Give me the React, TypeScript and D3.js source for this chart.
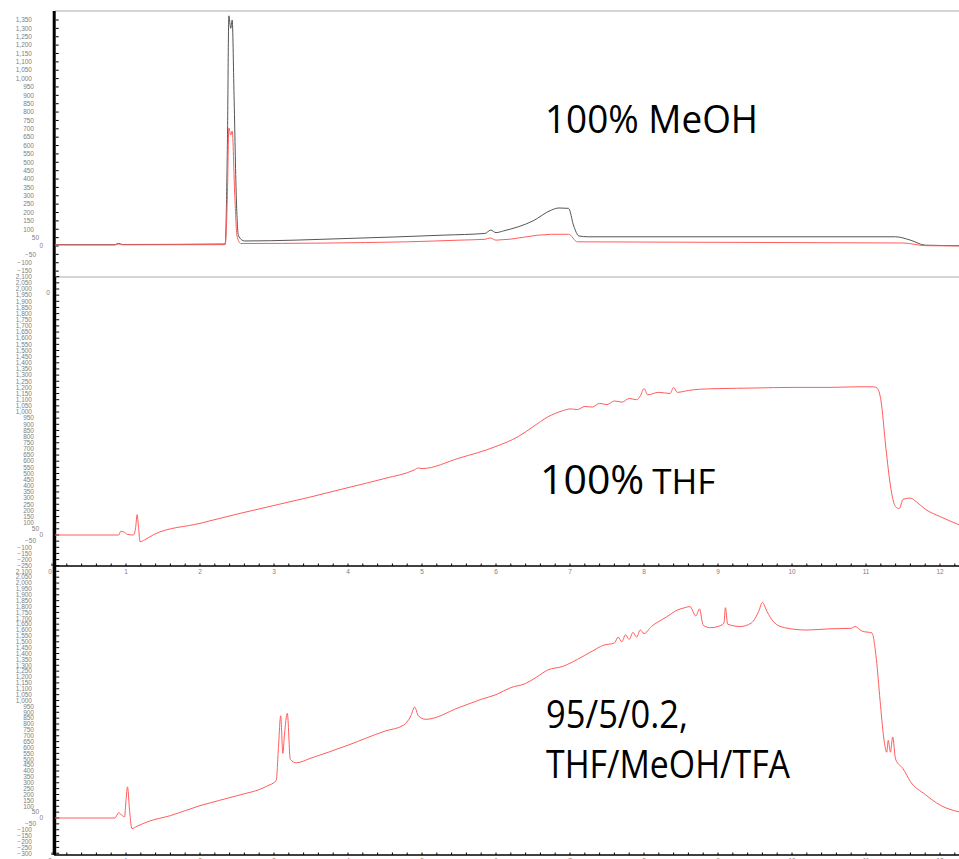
import React from 'react';
import * as d3 from 'd3';

const W = 959;
const H = 859;

// ---------- data (time in min, signal in mAU) ----------
// Panel 1: 100% MeOH — black trace
const meohBlackT = [0.04, 0.85, 0.9, 0.95, 2.34, 2.37, 2.39, 2.415, 2.435, 2.46, 2.49, 2.52, 2.6, 4.0, 5.3, 5.85, 5.93, 6.0, 6.1, 6.5, 6.75, 6.85, 6.98, 7.05, 7.12, 7.25, 11.4, 11.6, 11.8, 12.27];
const meohBlackV = [8, 8, 16, 9, 12, 600, 1375, 1300, 1350, 900, 300, 60, 30, 45, 65, 75, 95, 80, 90, 150, 215, 227, 225, 120, 60, 55, 55, 35, 5, 2];
// Panel 1: 100% MeOH — red trace
const meohRedT = [0.04, 0.85, 0.9, 0.95, 2.34, 2.37, 2.39, 2.415, 2.435, 2.47, 2.5, 2.55, 4.8, 5.5, 5.85, 5.92, 6.0, 6.75, 6.98, 7.1, 11.5, 11.8, 12.27];
const meohRedV = [6, 6, 12, 7, 8, 300, 705, 663, 687, 300, 60, 15, 25, 35, 40, 48, 35, 70, 70, 25, 18, 2, 0];

// Panel 2: 100% THF — red trace
const thfT = [0.04, 0.9, 0.93, 0.97, 1.02, 1.1, 1.13, 1.15, 1.17, 1.19, 1.25, 1.38, 2.0, 2.5, 3.0, 3.5, 4.0, 4.5, 4.9, 4.95, 5.0, 5.5, 6.0, 6.3, 6.5, 6.7, 6.9, 7.0, 7.1, 7.2, 7.3, 7.4, 7.5, 7.6, 7.7, 7.8, 7.9, 7.95, 8.0, 8.05, 8.2, 8.35, 8.4, 8.45, 8.6, 8.75, 9.0, 9.5, 10.0, 10.5, 10.9, 11.1, 11.15, 11.2, 11.27, 11.33, 11.4, 11.45, 11.5, 11.6, 11.68, 11.8, 12.0, 12.27];
const thfV = [0, 0, 30, 25, 5, 0, 60, 165, 60, -55, -40, 5, 95, 170, 240, 310, 385, 460, 530, 545, 540, 625, 720, 800, 880, 960, 1010, 1025, 1020, 1045, 1040, 1070, 1060, 1090, 1080, 1110, 1100, 1130, 1190, 1140, 1160, 1150, 1200, 1160, 1175, 1185, 1190, 1195, 1200, 1200, 1205, 1205, 1195, 1100, 700, 400, 230, 215, 290, 300, 270, 210, 150, 80];

// Panel 3: 95/5/0.2 THF/MeOH/TFA — red trace
const tfaT = [0.04, 0.85, 0.9, 0.95, 0.98, 1.0, 1.02, 1.05, 1.08, 1.15, 1.3, 1.6, 2.0, 2.5, 2.9, 3.03, 3.06, 3.09, 3.12, 3.14, 3.18, 3.22, 3.3, 3.5, 4.0, 4.5, 4.75, 4.85, 4.9, 4.95, 5.05, 5.5, 5.8, 6.0, 6.2, 6.4, 6.55, 6.7, 6.9, 7.1, 7.3, 7.45, 7.6, 7.65, 7.7, 7.75, 7.8, 7.85, 7.9, 7.95, 8.0, 8.1, 8.3, 8.45, 8.55, 8.62, 8.7, 8.75, 8.8, 8.9, 9.0, 9.08, 9.1, 9.13, 9.3, 9.45, 9.55, 9.6, 9.66, 9.75, 9.9, 10.2, 10.5, 10.8, 10.85, 10.95, 11.08, 11.14, 11.19, 11.24, 11.28, 11.3, 11.33, 11.36, 11.4, 11.5, 11.6, 11.8, 12.0, 12.27];
const tfaV = [0, 0, 45, 20, 10, 150, 265, 50, -90, -70, -30, 20, 105, 190, 270, 320, 600, 870, 550, 700, 890, 500, 470, 510, 620, 740, 790, 870, 945, 870, 840, 940, 1010, 1050, 1110, 1145, 1200, 1260, 1290, 1350, 1420, 1470, 1490, 1540, 1500, 1560, 1520, 1580, 1540, 1600, 1570, 1630, 1710, 1770, 1790, 1800, 1720, 1780, 1640, 1620, 1630, 1660, 1790, 1650, 1630, 1660, 1760, 1835, 1760, 1670, 1620, 1600, 1610, 1615, 1630, 1590, 1575, 1350, 1000, 680, 560, 660, 560, 690, 500, 420, 310, 200, 110, 50];

// axis ticks
const timeLabels = d3.range(0, 13);
const p1Ticks = d3.range(-150, 1351, 50);
const p2Ticks = d3.range(-250, 2101, 50);
const p3Ticks = d3.range(-300, 2101, 50);

const fmt = d3.format(',');

function labelRight(v: number): number {
  if (v === 0) return 43;
  if (v > 0) {
    if (v < 100) return 39;
    if (v < 1000) return 34;
    return 32;
  }
  if (v > -100) return 36;
  return 32;
}

const TICK_FONT = "'Liberation Sans', Arial, sans-serif";
const TITLE_FONT = "'Open Sans', 'Noto Sans', sans-serif";
const RED = '#ff5c5c';

function YAxis({ scale, ticks, y0, y1, barW }: { scale: d3.ScaleLinear<number, number>; ticks: number[]; y0: number; y1: number; barW: number }) {
  return (
    <g>
      <rect x={52.7} y={y0} width={barW} height={y1 - y0} fill="#000" />
      {ticks.map((v) => (
        <g key={v}>
          <line x1={52.7 + barW} x2={52.7 + barW + 3} y1={scale(v)} y2={scale(v)} stroke="#000" strokeWidth={1} />
          <text x={labelRight(v)} y={scale(v)} dy="0.35em" textAnchor="end" fontSize={6.5} fontFamily={TICK_FONT} fill="#808080">
            {fmt(v)}
          </text>
        </g>
      ))}
    </g>
  );
}

function XAxis({ scale, y, labelY }: { scale: d3.ScaleLinear<number, number>; y: number; labelY: number }) {
  const minor = d3.range(0, 12.3, 0.2);
  return (
    <g>
      <line x1={54} x2={W} y1={y} y2={y} stroke="#000" strokeWidth={1.5} />
      {minor.map((t, i) => (
        <line key={i} x1={scale(t)} x2={scale(t)} y1={y} y2={y - 2.5} stroke="#000" strokeWidth={1} />
      ))}
      {timeLabels.map((t) => (
        <text key={t} x={scale(t) + (t === 0 ? -2 : 0)} y={labelY} dy="0.35em" textAnchor="middle" fontSize={6.5} fontFamily={TICK_FONT} fill="#808080">
          {t}
        </text>
      ))}
    </g>
  );
}

export default function App() {
  const x = d3.scaleLinear().domain([0, 12.27]).range([52, 960]);
  const y1 = d3.scaleLinear().domain([0, 1350]).range([246, 20]);
  const y2 = d3.scaleLinear().domain([0, 1200]).range([535, 387.4]);
  const y3 = d3.scaleLinear().domain([0, 2100]).range([818, 571.3]);

  const mk = (ys: d3.ScaleLinear<number, number>, ts: number[], vs: number[]) =>
    d3.line<number>().x((_, i) => x(ts[i])).y((v) => ys(v)).curve(d3.curveMonotoneX)(vs) || '';

  return (
    <svg width={W} height={H} style={{ position: 'absolute', left: 0, top: 0, background: '#fff' }}>
      <rect x={0} y={0} width={W} height={H} fill="#fff" />

      {/* Panel 1 */}
      <line x1={55} x2={W} y1={11} y2={11} stroke="#ababab" strokeWidth={1.2} />
      <line x1={55} x2={W} y1={277} y2={277} stroke="#ababab" strokeWidth={1.2} />
      <YAxis scale={y1} ticks={p1Ticks} y0={11} y1={277} barW={3} />
      <path d={mk(y1, meohBlackT, meohBlackV)} fill="none" stroke="#555" strokeWidth={1} />
      <path d={mk(y1, meohRedT, meohRedV)} fill="none" stroke={RED} strokeWidth={1} />
      <text x={48} y={293} dy="0.35em" textAnchor="middle" fontSize={6.5} fontFamily={TICK_FONT} fill="#808080">0</text>
      <text x={545} y={133} fontSize={39} fontFamily={TITLE_FONT} fill="#000" textLength={213} lengthAdjust="spacingAndGlyphs">100% MeOH</text>

      {/* Panel 2 */}
      <YAxis scale={y2} ticks={p2Ticks} y0={277} y1={566} barW={3.5} />
      <XAxis scale={x} y={566} labelY={572} />
      <path d={mk(y2, thfT, thfV)} fill="none" stroke={RED} strokeWidth={1} />
      <text x={540} y={494} fontFamily={TITLE_FONT} fill="#000">
        <tspan fontSize={41}>100%</tspan>
        <tspan fontSize={35} dx={8}>THF</tspan>
      </text>

      {/* Panel 3 */}
      <YAxis scale={y3} ticks={p3Ticks} y0={566} y1={855} barW={3.5} />
      <XAxis scale={x} y={855} labelY={861} />
      <path d={mk(y3, tfaT, tfaV)} fill="none" stroke={RED} strokeWidth={1} />
      <text x={546} y={728} fontSize={39} fontFamily={TITLE_FONT} fill="#000" textLength={142} lengthAdjust="spacingAndGlyphs">95/5/0.2,</text>
      <text x={546} y={778} fontSize={39} fontFamily={TITLE_FONT} fill="#000" textLength={244} lengthAdjust="spacingAndGlyphs">THF/MeOH/TFA</text>
    </svg>
  );
}
